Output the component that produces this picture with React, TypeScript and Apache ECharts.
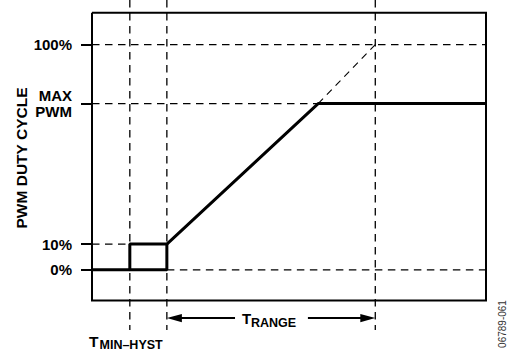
import React, { useEffect, useRef } from "react";
import * as echarts from "echarts";

// y values in chart units (0% .. 100% positions as drawn on the schematic)
const tickValues = [0, 10, 64.7, 87.6];
const tickLabels = ["0%", "10%", "MAX\nPWM", "100%"];

// temperature marks (x units): T_MIN-HYST, T_MIN, T_MAX
const tempMarks = [9.6, 19, 71.9];

// PWM duty-cycle transfer curve
const dutyCurve = [
  [0, 0],
  [9.6, 0],
  [9.6, 10],
  [19, 10],
  [57.4, 64.7],
  [100, 64.7],
];
const hystLoop = [
  [9.6, 0],
  [19, 0],
  [19, 10],
];
const extrapolation = [
  [57.4, 64.7],
  [71.9, 87.6],
];

// dashed reference lines
const hLine100 = [
  [0, 87.6],
  [100, 87.6],
];
const hLineMax = [
  [0, 64.7],
  [57.4, 64.7],
];
const hLine10 = [
  [0, 10],
  [9.6, 10],
];
const hLine0 = [
  [19, 0],
  [100, 0],
];
const vLineTop = 105;
const vLineBottom = -23.4;

// plot frame
const boxX = [0, 100];
const boxY = [-12, 100];

// T_RANGE arrows: [from, to, y]
const rangeArrows = [
  [36.3, 19, -18.8],
  [54.8, 71.9, -18.8],
];

const FONT = "'Liberation Sans', Arial, Helvetica, sans-serif";

export default function App() {
  const ref = useRef<HTMLDivElement>(null);
  useEffect(() => {
    if (!ref.current) return;
    const chart = echarts.init(ref.current, null, { renderer: "svg" });

    const dashed = (data: number[][], extra: any = {}) => ({
      type: "line",
      data,
      symbol: "none",
      clip: false,
      silent: true,
      z: 1,
      lineStyle: { color: "#000", width: 1.3, type: [7.5, 5.5], ...extra },
    });

    const vLines = tempMarks.map((x) =>
      dashed([
        [x, vLineTop],
        [x, vLineBottom],
      ])
    );

    const box = [
      [boxX[0], boxY[1]],
      [boxX[1], boxY[1]],
      [boxX[1], boxY[0]],
      [boxX[0], boxY[0]],
      [boxX[0], boxY[1]],
    ];

    chart.setOption({
      animation: false,
      backgroundColor: "#fff",
      grid: { left: 92, right: 23, top: 0, bottom: 0 },
      xAxis: {
        type: "value",
        min: 0,
        max: 100,
        show: false,
      },
      yAxis: {
        type: "value",
        min: -32,
        max: 105,
        axisLine: { show: false },
        splitLine: { show: false },
        axisTick: {
          show: true,
          customValues: tickValues,
          length: 11,
          lineStyle: { color: "#000", width: 2 },
        },
        axisLabel: {
          customValues: tickValues,
          margin: 20,
          color: "#000",
          fontFamily: FONT,
          fontWeight: "bold",
          fontSize: 15,
          lineHeight: 16,
          formatter: (v: number) => {
            const i = tickValues.findIndex((t) => Math.abs(t - v) < 1e-6);
            return i >= 0 ? tickLabels[i] : "";
          },
        },
      },
      series: [
        dashed(hLine100),
        dashed(hLineMax),
        dashed(hLine10),
        dashed(hLine0),
        ...vLines,
        dashed(extrapolation, { width: 1.1, type: [7, 5.5] }),
        {
          type: "line",
          data: box,
          symbol: "none",
          clip: false,
          silent: true,
          z: 2,
          lineStyle: { color: "#000", width: 2, join: "miter" },
        },
        {
          type: "line",
          data: dutyCurve,
          symbol: "none",
          clip: false,
          silent: true,
          z: 3,
          lineStyle: { color: "#000", width: 3 },
        },
        {
          type: "line",
          data: hystLoop,
          symbol: "none",
          clip: false,
          silent: true,
          z: 3,
          lineStyle: { color: "#000", width: 3 },
        },
        {
          type: "custom",
          data: rangeArrows,
          encode: { x: [0, 1], y: 2 },
          clip: false,
          silent: true,
          z: 3,
          renderItem: (params: any, api: any) => {
            const from = api.coord([api.value(0), api.value(2)]);
            const to = api.coord([api.value(1), api.value(2)]);
            const dir = Math.sign(to[0] - from[0]);
            const headLen = 15;
            const headHalf = 4.2;
            return {
              type: "group",
              children: [
                {
                  type: "line",
                  shape: {
                    x1: from[0],
                    y1: from[1],
                    x2: to[0] - dir * headLen + dir,
                    y2: to[1],
                  },
                  style: { stroke: "#000", lineWidth: 2 },
                },
                {
                  type: "polygon",
                  shape: {
                    points: [
                      [to[0], to[1]],
                      [to[0] - dir * headLen, to[1] - headHalf],
                      [to[0] - dir * headLen, to[1] + headHalf],
                    ],
                  },
                  style: { fill: "#000" },
                },
              ],
            };
          },
        },
      ],
      graphic: [
        {
          type: "text",
          x: 21,
          y: 158,
          rotation: Math.PI / 2,
          style: {
            text: "PWM DUTY CYCLE",
            fontFamily: FONT,
            fontWeight: "bold",
            fontSize: 15.5,
            fill: "#000",
            align: "center",
            verticalAlign: "middle",
          },
        },
        {
          type: "text",
          x: 242,
          y: 318,
          style: {
            text: "T",
            fontFamily: FONT,
            fontWeight: "bold",
            fontSize: 15,
            fill: "#000",
            align: "left",
            verticalAlign: "middle",
          },
        },
        {
          type: "text",
          x: 251,
          y: 322.5,
          style: {
            text: "RANGE",
            fontFamily: FONT,
            fontWeight: "bold",
            fontSize: 12.5,
            fill: "#000",
            align: "left",
            verticalAlign: "middle",
          },
        },
        {
          type: "text",
          x: 89,
          y: 341,
          style: {
            text: "T",
            fontFamily: FONT,
            fontWeight: "bold",
            fontSize: 15.5,
            fill: "#000",
            align: "left",
            verticalAlign: "middle",
          },
        },
        {
          type: "text",
          x: 99.5,
          y: 344.7,
          style: {
            text: "MIN–HYST",
            fontFamily: FONT,
            fontWeight: "bold",
            fontSize: 12.5,
            fill: "#000",
            align: "left",
            verticalAlign: "middle",
          },
        },
        {
          type: "text",
          x: 502,
          y: 324,
          rotation: Math.PI / 2,
          style: {
            text: "06789-061",
            fontFamily: FONT,
            fontSize: 10,
            fill: "#333",
            align: "center",
            verticalAlign: "middle",
          },
        },
      ],
    });

    return () => chart.dispose();
  }, []);

  return (
    <div
      ref={ref}
      style={{ position: "fixed", left: 0, top: 0, width: 509, height: 352 }}
    />
  );
}
